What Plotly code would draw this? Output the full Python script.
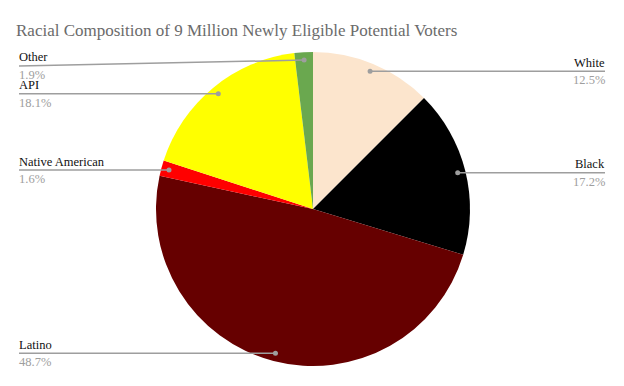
import math
import plotly.graph_objects as go

labels = ["White", "Black", "Latino", "Native American", "API", "Other"]
values = [12.5, 17.2, 48.7, 1.6, 18.1, 1.9]
colors = ["#FCE5CD", "#000000", "#660000", "#FF0000", "#FFFF00", "#6AA84F"]

OFF = 8  # browser body margin
W, H = 624 - OFF, 386 - OFF
CX, CY, R = 313 - OFF, 209 - OFF, 157  # pixel geometry of the pie within figure

fig = go.Figure(go.Pie(
    labels=labels, values=values, sort=False, direction="clockwise", rotation=0,
    marker=dict(colors=colors, line=dict(width=0)),
    textinfo="none", hoverinfo="label+percent", showlegend=False,
    domain=dict(x=[(CX - R) / W, (CX + R) / W], y=[(H - CY - R) / H, (H - CY + R) / H]),
))

def px(x):
    return x / W

def py(y):
    return 1 - y / H

serif = "Liberation Serif"
shapes, annots = [], []
total = sum(values)
cum = 0
top_limit = CY - R + 14
for lab, v in zip(labels, values):
    mid = (cum + v / 2) / total * 2 * math.pi
    cum += v
    dx = CX + 0.95 * R * math.sin(mid)
    dy = CY - 0.95 * R * math.cos(mid)
    right = math.sin(mid) > 0
    ly = max(dy, top_limit)
    ex = 605 - OFF if right else 19 - OFF
    shapes.append(dict(type="line", xref="paper", yref="paper",
                       x0=px(dx), x1=px(ex), y0=py(dy), y1=py(ly),
                       line=dict(color="#9E9E9E", width=1.5)))
    shapes.append(dict(type="circle", xref="paper", yref="paper",
                       xsizemode="pixel", ysizemode="pixel",
                       xanchor=px(dx), yanchor=py(dy), x0=-2.5, x1=2.5, y0=-2.5, y1=2.5,
                       fillcolor="#9E9E9E", line=dict(width=0)))
    anchor = "right" if right else "left"
    annots.append(dict(xref="paper", yref="paper", x=px(ex), y=py(ly - 0.5),
                       text=lab, showarrow=False, xanchor=anchor, yanchor="bottom",
                       borderpad=0, xshift=(1 if right else -1),
                       font=dict(family=serif, size=12.5, color="#111111")))
    annots.append(dict(xref="paper", yref="paper", x=px(ex), y=py(ly + 1),
                       text=f"{v:.1f}%", showarrow=False, xanchor=anchor, yanchor="top",
                       borderpad=0, xshift=(1 if right else -1),
                       font=dict(family=serif, size=12.5, color="#9E9E9E")))

fig.update_layout(
    width=W, height=H,
    margin=dict(l=0, r=0, t=0, b=0),
    paper_bgcolor="white", plot_bgcolor="white",
    title=dict(text="Racial Composition of 9 Million Newly Eligible Potential Voters",
               x=px(16 - OFF), xanchor="left", y=py(30 - OFF), yanchor="middle",
               font=dict(family=serif, size=17, color="#6B6B6B")),
    shapes=shapes, annotations=annots,
)

fig.write_html("out.html")
